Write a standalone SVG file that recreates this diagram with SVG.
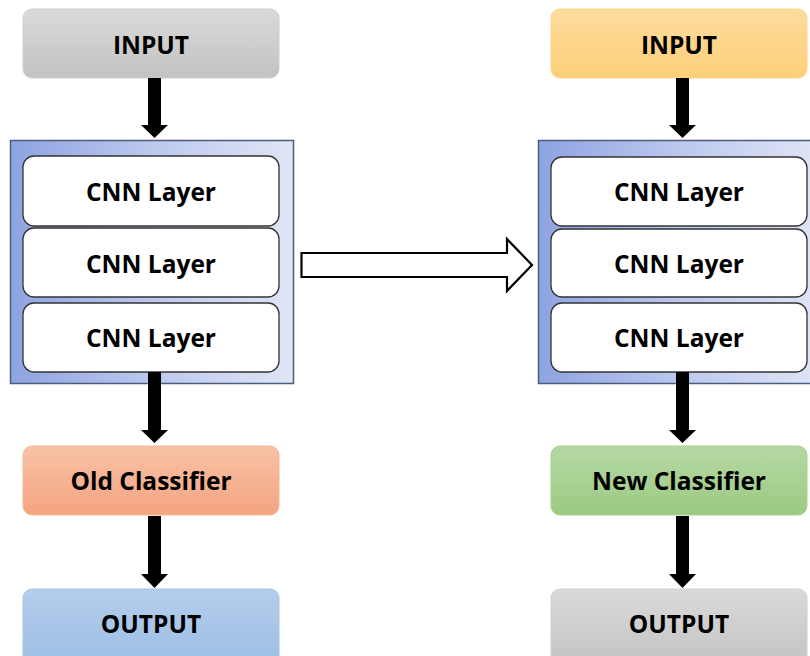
<svg xmlns="http://www.w3.org/2000/svg" width="810" height="656" viewBox="0 0 810 656">
<defs>
<linearGradient id="gGray" x1="0" y1="0" x2="0" y2="1"><stop offset="0" stop-color="#dadada"/><stop offset="1" stop-color="#c2c2c2"/></linearGradient>
<linearGradient id="gYellow" x1="0" y1="0" x2="0" y2="1"><stop offset="0" stop-color="#fedc9f"/><stop offset="1" stop-color="#fdcf78"/></linearGradient>
<linearGradient id="gOrange" x1="0" y1="0" x2="0" y2="1"><stop offset="0" stop-color="#f8c2a6"/><stop offset="1" stop-color="#f4a480"/></linearGradient>
<linearGradient id="gGreen" x1="0" y1="0" x2="0" y2="1"><stop offset="0" stop-color="#b5d8a3"/><stop offset="1" stop-color="#9bca82"/></linearGradient>
<linearGradient id="gBlue" x1="0" y1="0" x2="0" y2="1"><stop offset="0" stop-color="#b5cdeb"/><stop offset="1" stop-color="#9bbde4"/></linearGradient>
<linearGradient id="gCont" x1="0" y1="0" x2="1" y2="0"><stop offset="0" stop-color="#8ea3e1"/><stop offset="0.5" stop-color="#bcc8ee"/><stop offset="1" stop-color="#e0e5f6"/></linearGradient>
</defs>
<style>
text{font-family:"Open Sans","Noto Sans","Liberation Sans",sans-serif;font-weight:bold;font-size:24.5px;fill:#000;text-anchor:middle}
.layer{fill:#fff;stroke:#333;stroke-width:1.3}
.cont{fill:url(#gCont);stroke:#4a5d80;stroke-width:1.5}
.arr{fill:#000}
</style>

<g id="left-input"><rect x="23" y="9" width="256" height="69" rx="9" fill="url(#gGray)" stroke="#cfcfcf"/><text x="151" y="54">INPUT</text></g>
<g id="left-cnn">
<rect class="cont" x="10.5" y="140.5" width="283" height="243"/>
<g id="left-layer1"><rect class="layer" x="23" y="156" width="256" height="70" rx="11"/><text x="151" y="201">CNN Layer</text></g>
<g id="left-layer2"><rect class="layer" x="23" y="228" width="256" height="69" rx="11"/><text x="151" y="273">CNN Layer</text></g>
<g id="left-layer3"><rect class="layer" x="23" y="303" width="256" height="69" rx="11"/><text x="151" y="347">CNN Layer</text></g>
</g>
<g id="left-classifier"><rect x="23" y="446" width="256" height="69" rx="9" fill="url(#gOrange)" stroke="#f3b89a"/><text x="151" y="490">Old Classifier</text></g>
<g id="left-output"><rect x="23" y="589" width="256" height="80" rx="9" fill="url(#gBlue)" stroke="#a8c4e6"/><text x="151" y="633">OUTPUT</text></g>

<g id="right-input"><rect x="551" y="9" width="256" height="69" rx="9" fill="url(#gYellow)" stroke="#f8d690"/><text x="679" y="54">INPUT</text></g>
<g id="right-cnn">
<rect class="cont" x="538.5" y="140.5" width="283" height="243"/>
<g id="right-layer1"><rect class="layer" x="551" y="157" width="256" height="69" rx="11"/><text x="679" y="201">CNN Layer</text></g>
<g id="right-layer2"><rect class="layer" x="551" y="229" width="256" height="68" rx="11"/><text x="679" y="273">CNN Layer</text></g>
<g id="right-layer3"><rect class="layer" x="551" y="303" width="256" height="69" rx="11"/><text x="679" y="347">CNN Layer</text></g>
</g>
<g id="right-classifier"><rect x="551" y="446" width="256" height="69" rx="9" fill="url(#gGreen)" stroke="#a8d190"/><text x="679" y="490">New Classifier</text></g>
<g id="right-output"><rect x="551" y="589" width="256" height="80" rx="9" fill="url(#gGray)" stroke="#cfcfcf"/><text x="679" y="633">OUTPUT</text></g>

<g id="connectors">
<polygon class="arr" points="148,78 161,78 161,125 168,125 154.5,138 141,125 148,125"/>
<polygon class="arr" points="148,372 161,372 161,430 168,430 154.5,443 141,430 148,430"/>
<polygon class="arr" points="148,516 161,516 161,574 168,574 154.5,588 141,574 148,574"/>
<polygon class="arr" points="676,78 689,78 689,125 696,125 682.5,138 669,125 676,125"/>
<polygon class="arr" points="676,372 689,372 689,430 696,430 682.5,443 669,430 676,430"/>
<polygon class="arr" points="676,516 689,516 689,574 696,574 682.5,588 669,574 676,574"/>
<polygon points="301.5,253 507,253 507,239 532,265 507,291 507,277 301.5,277" fill="#fff" stroke="#000" stroke-width="2.2" stroke-linejoin="miter"/>
</g>
</svg>
